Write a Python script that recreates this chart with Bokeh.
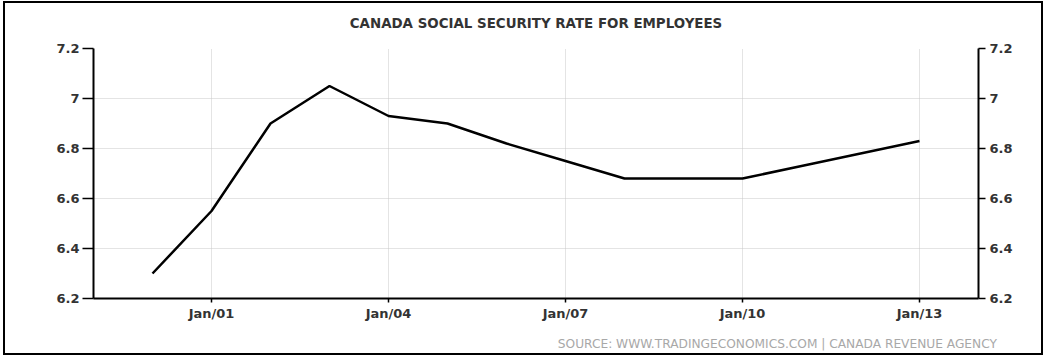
from bokeh.plotting import figure
from bokeh.models import LinearAxis, FixedTicker, NumeralTickFormatter, Range1d, Title, ColumnDataSource
from bokeh.embed import file_html
from bokeh.resources import INLINE

# ---- data ----
years = [2000, 2001, 2002, 2003, 2004, 2005, 2006, 2007, 2008, 2009, 2010, 2011, 2012, 2013]
rates = [6.30, 6.55, 6.90, 7.05, 6.93, 6.90, 6.82, 6.75, 6.68, 6.68, 6.68, 6.73, 6.78, 6.83]
x_ticks = [2001, 2004, 2007, 2010, 2013]
x_tick_labels = ["Jan/01", "Jan/04", "Jan/07", "Jan/10", "Jan/13"]
y_ticks = [6.2, 6.4, 6.6, 6.8, 7.0, 7.2]
title_text = "CANADA SOCIAL SECURITY RATE FOR EMPLOYEES"
source_text = "SOURCE:  WWW.TRADINGECONOMICS.COM  |  CANADA REVENUE AGENCY"

FONT = "DejaVu Sans"
LABEL_COLOR = "#333333"

src = ColumnDataSource(data=dict(x=years, y=rates))

p = figure(
    width=1040, height=354, title=None,
    x_range=Range1d(1999, 2014), y_range=Range1d(6.2, 7.2),
    output_backend="svg", toolbar_location=None,
    min_border_left=88, min_border_right=67, min_border_top=45, min_border_bottom=59,
    outline_line_color=None, background_fill_color="white", border_fill_color="white",
    styles={"border": "2px solid #000000", "margin-left": "3px", "margin-top": "1px"},
)

# line
p.line("x", "y", source=src, line_color="#000000", line_width=2.5)

# grids
p.xgrid.ticker = FixedTicker(ticks=x_ticks)
p.ygrid.ticker = FixedTicker(ticks=y_ticks)
for g in (p.xgrid, p.ygrid):
    g.grid_line_color = "#c8c8c8"
    g.grid_line_dash = "1 1"
    g.grid_line_width = 1

# x axis
xa = p.xaxis[0]
xa.ticker = FixedTicker(ticks=x_ticks)
xa.major_label_overrides = {t: l for t, l in zip(x_ticks, x_tick_labels)}

# left y axis
ya = p.yaxis[0]
ya.ticker = FixedTicker(ticks=y_ticks)
ya.formatter = NumeralTickFormatter(format="0.[0]")

# right y axis
yr = LinearAxis(ticker=FixedTicker(ticks=y_ticks), formatter=NumeralTickFormatter(format="0.[0]"))
p.add_layout(yr, "right")

for ax in (xa, ya, yr):
    ax.axis_line_color = "#000000"
    ax.axis_line_width = 2
    ax.major_tick_line_color = "#000000"
    ax.major_tick_line_width = 1.5
    ax.minor_tick_line_color = None
    ax.major_tick_in = 0
    ax.major_label_text_font = FONT
    ax.major_label_text_font_size = "13px"
    ax.major_label_text_font_style = "bold"
    ax.major_label_text_color = LABEL_COLOR

xa.major_tick_out = 4
xa.major_label_standoff = 3
ya.major_tick_out = 11
ya.major_label_standoff = 3
yr.major_tick_out = 7
yr.major_label_standoff = 4

# spacer + title above the frame
top_spacer = Title(text=" ", text_font_size="1px", standoff=11)
main_title = Title(text=title_text, align="center", offset=-3, text_font=FONT,
                   text_font_size="13.4px", text_font_style="bold",
                   text_color=LABEL_COLOR, standoff=8)
p.add_layout(top_spacer, "above")
p.add_layout(main_title, "above")

# spacer + source note below the x axis
bottom_spacer = Title(text=" ", text_font_size="1px", standoff=7)
note = Title(text=source_text, align="right", text_font=FONT, text_font_size="12.2px",
             text_font_style="normal", text_color="#a8a8a8", standoff=2, offset=-30)
p.add_layout(bottom_spacer, "below")
p.add_layout(note, "below")

open("out.html", "w").write(file_html(p, INLINE))
